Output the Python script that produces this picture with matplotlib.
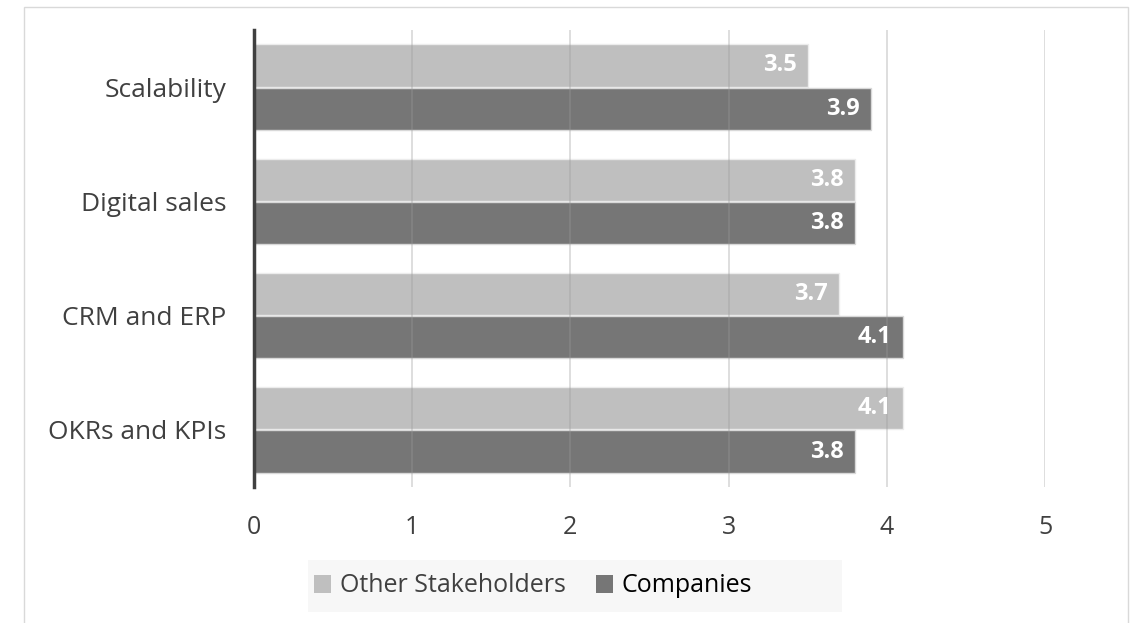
import matplotlib
matplotlib.use('Agg')
import matplotlib.pyplot as plt
from matplotlib.patches import Patch, Rectangle

plt.rcParams['font.family'] = ['Open Sans', 'DejaVu Sans']

# Survey scores per area
categories = ['Scalability', 'Digital sales', 'CRM and ERP', 'OKRs and KPIs']
other_stakeholders = [3.5, 3.8, 3.7, 4.1]
companies = [3.9, 3.8, 4.1, 3.8]
series_names = ['Other Stakeholders', 'Companies']
x_ticks = [0, 1, 2, 3, 4, 5]

light = '#bfbfbf'
dark = '#767676'
text_col = '#404040'

W, H = 1135, 623
fig = plt.figure(figsize=(W / 100, H / 100), dpi=100)
ax = fig.add_axes([254 / W, 1 - 487 / H, (1045 - 254) / W, (487 - 30) / H])

# Outer frame around the chart area
fig.patches.append(Rectangle((24 / W, -0.05), (1128 - 24) / W, 1 - 7 / H + 0.05,
                             transform=fig.transFigure, fill=False,
                             edgecolor='#d9d9d9', linewidth=1.0, zorder=0))
# Shaded band behind the legend
fig.patches.append(Rectangle((308 / W, 1 - 612 / H), (842 - 308) / W, 52 / H,
                             transform=fig.transFigure, facecolor='#f7f7f7',
                             edgecolor='none', zorder=0))

ypos = list(range(len(categories)))
bh = 0.37
off = 0.19

# Vertical gridlines drawn over the bars, lightly
for t in x_ticks[1:]:
    ax.axvline(t, color='#9a9a9a', alpha=0.35, linewidth=1.3, zorder=3)

b1 = ax.barh([y - off for y in ypos], other_stakeholders, height=bh, color=light,
             edgecolor='#ececec', linewidth=1.0, zorder=2)
b2 = ax.barh([y + off for y in ypos], companies, height=bh, color=dark,
             edgecolor='#d8d8d8', linewidth=1.0, zorder=2)

for bars, vals in [(b1, other_stakeholders), (b2, companies)]:
    for rect, v in zip(bars, vals):
        ax.annotate(f'{v:.1f}', xy=(v, rect.get_y() + rect.get_height() / 2),
                    xytext=(-8, 0), textcoords='offset points', ha='right', va='center',
                    fontsize=17, fontweight='bold', color='white', zorder=4)

ax.set_xlim(0, 5)
ax.set_ylim(len(categories) - 0.5, -0.5)
ax.set_xticks(x_ticks)
ax.set_xticklabels([str(t) for t in x_ticks], fontsize=18, color=text_col)
ax.set_yticks(ypos)
ax.set_yticklabels(categories, fontsize=19, color=text_col)
ax.tick_params(axis='x', length=0, pad=20)
ax.tick_params(axis='y', length=0, pad=20)

for s in ['top', 'right', 'bottom']:
    ax.spines[s].set_visible(False)
ax.spines['left'].set_color(text_col)
ax.spines['left'].set_linewidth(2.5)
ax.spines['left'].set_zorder(5)

handles = [Patch(facecolor=light, edgecolor='none', label=series_names[0]),
           Patch(facecolor=dark, edgecolor='none', label=series_names[1])]
leg = fig.legend(handles=handles, loc='center', bbox_to_anchor=(533 / W, 1 - 586 / H),
                 ncol=2, fontsize=18, frameon=False, handlelength=0.7, handleheight=0.7,
                 handletextpad=0.35, columnspacing=1.2, borderpad=0, borderaxespad=0)
leg.get_texts()[0].set_color(text_col)
leg.get_texts()[1].set_color('black')

fig.savefig('out.png', dpi=100)
